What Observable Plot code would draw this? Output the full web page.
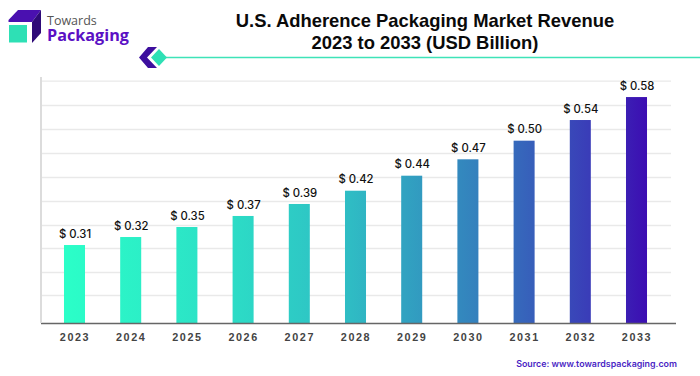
<!DOCTYPE html>
<html>
<head>
<meta charset="utf-8">
<script src="https://cdn.jsdelivr.net/npm/d3@7"></script>
<script src="https://cdn.jsdelivr.net/npm/@observablehq/plot@0.6"></script>
<style>
html,body{margin:0;padding:0;background:#fff;}
#wrap{position:relative;width:700px;height:376px;overflow:hidden;font-family:"Liberation Sans",Arial,sans-serif;}
#title{position:absolute;left:175px;width:500px;top:10px;text-align:center;font-weight:700;font-size:18.4px;line-height:21.5px;color:#0a0a0a;}
#source{position:absolute;right:23px;top:358px;line-height:11px;font-family:"Inter",sans-serif;font-weight:600;font-size:8.9px;color:#4a1fc4;white-space:nowrap;}
#deco{position:absolute;left:0;top:0;}
#brand1{position:absolute;left:47px;top:15px;line-height:11px;height:11px;font-family:"Open Sans",sans-serif;font-size:12.5px;color:#555;}
#brand2{position:absolute;left:47px;top:28px;line-height:15px;height:15px;font-family:"Open Sans",sans-serif;font-weight:700;font-size:16.2px;color:#5a10c4;}
svg[class^="plot"] {position:absolute;left:0;top:0;}
[aria-label="x-axis tick label"] text{letter-spacing:1.6px;}
</style>
</head>
<body>
<div id="wrap">
  <div id="chart"></div>
  <svg id="deco" width="700" height="376" style="pointer-events:none">
    <polygon points="8.5,20 18,10 41,10 32,22 8.5,22" fill="#4a10b0"/>
    <polygon points="32,22 41,10 41,33 32,43" fill="#2e0a78"/>
    <rect x="9" y="25" width="18" height="17.5" fill="#2ee0b5"/>
    <line x1="160" y1="57.5" x2="700" y2="57.5" stroke="#3fe3b8" stroke-width="1.6"/>
    <polygon points="139,57.5 148,47 157,47 147,57.5 157,68 148,68" fill="#3d0f9e"/>
    <polygon points="159,49 167,57.5 159,66 151,57.5" fill="#2ee0b5"/>
  </svg>
  <div id="brand1">Towards</div>
  <div id="brand2">Packaging</div>
  <div id="title">U.S. Adherence Packaging Market Revenue<br>2023 to 2033 (USD Billion)</div>
  <div id="source">Source: www.towardspackaging.com</div>
</div>
<script>
const years = ["2023","2024","2025","2026","2027","2028","2029","2030","2031","2032","2033"];
// bar heights
const barValues = [0.310,0.3246,0.3429,0.363,0.3849,0.4091,0.4365,0.4664,0.5004,0.5381,0.58];
// printed labels
const valueLabels = ["$ 0.31","$ 0.32","$ 0.35","$ 0.37","$ 0.39","$ 0.42","$ 0.44","$ 0.47","$ 0.50","$ 0.54","$ 0.58"];
const gridValues = [0.61,0.5655,0.5217,0.4779,0.4341,0.3903,0.3465,0.3046,0.2608,0.2188];
const yDomain = [0.1677,0.6093];
const gradientStops = [[0,"#2bffc8"],[0.29,"#2cdcc6"],[0.49,"#2fbcc4"],[0.71,"#3480bd"],[0.9,"#3a3db8"],[1,"#3c0db2"]];

const rows = years.map((year,i)=>({year,value:barValues[i],label:valueLabels[i]}));

const plot = Plot.plot({
  width:700,
  height:376,
  marginTop:81,
  marginBottom:53,
  marginLeft:41,
  marginRight:24,
  style:{fontFamily:'"Liberation Sans",Arial,sans-serif',background:"transparent"},
  x:{type:"band",domain:years,range:[41,670],paddingInner:0.626,paddingOuter:0.409,align:0.5,round:false,label:null},
  y:{domain:yDomain,label:null,axis:null},
  marks:[
    Plot.ruleY(gridValues,{stroke:"#e9e9e9",strokeWidth:1.3,insetRight:5}),
    Plot.barY(rows,{x:"year",y1:yDomain[0],y2:"value",fill:"url(#barGrad)"}),
    Plot.text(rows,{x:"year",y:"value",text:"label",dy:-11.5,fill:"#111",fontFamily:"Inter",fontWeight:500,fontSize:11.3}),
    Plot.axisX({tickSize:0,tickPadding:10,fontSize:10.8,fontWeight:700,fill:"#444",label:null,anchor:"bottom"}),
    Plot.ruleY([yDomain[0]],{stroke:"#666",strokeWidth:1.4})
  ]
});
// left axis line and horizontal gradient, spanning the bars
const sel = d3.select(plot);
const xs = plot.scale("x");
const x0 = xs.apply(years[0]), x1 = xs.apply(years[years.length-1]) + xs.bandwidth;
const grad = sel.insert("defs",":first-child").append("linearGradient")
  .attr("id","barGrad").attr("gradientUnits","userSpaceOnUse")
  .attr("x1",x0).attr("x2",x1).attr("y1",0).attr("y2",0);
gradientStops.forEach(([o,c])=>grad.append("stop").attr("offset",o).attr("stop-color",c));
sel.append("line").attr("x1",41).attr("x2",41).attr("y1",77).attr("y2",323)
  .attr("stroke","#dcdcdc").attr("stroke-width",2);
document.getElementById("chart").appendChild(plot);
</script>
</body>
</html>
